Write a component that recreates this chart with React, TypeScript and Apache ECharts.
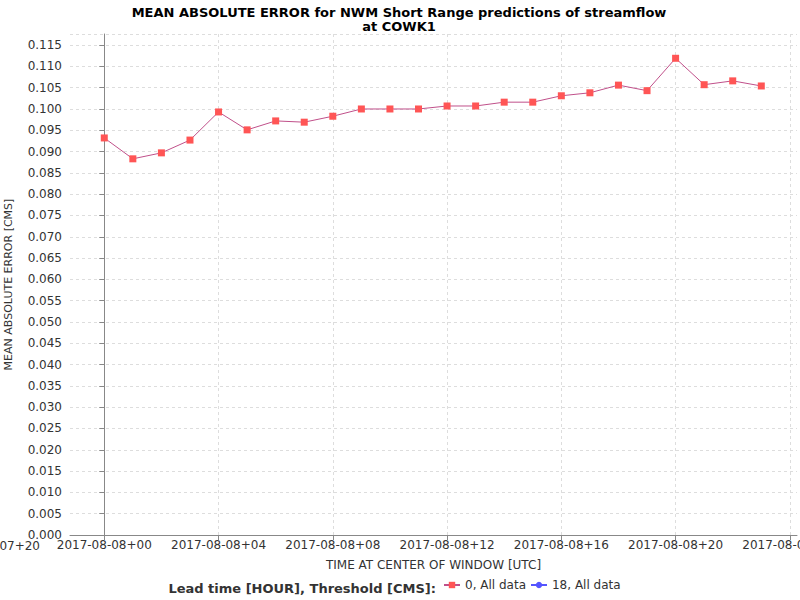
import { useEffect, useRef } from 'react';
import * as echarts from 'echarts';

// lead hours (x) and mean absolute error values
const hours = [0, 1, 2, 3, 4, 5, 6, 7, 8, 9, 10, 11, 12, 13, 14, 15, 16, 17, 18, 19, 20, 21, 22, 23];
const maeValues = [
  0.0932, 0.0883, 0.0897, 0.0927, 0.0993, 0.0951, 0.0972, 0.0969, 0.0983, 0.1, 0.1, 0.1,
  0.1007, 0.1007, 0.1016, 0.1016, 0.1031, 0.1038, 0.1056, 0.1043, 0.1119, 0.1057, 0.1066, 0.1054,
];
const tickHours = [0, 4, 8, 12, 16, 20, 24];
const tickLabels = [
  '2017-08-08+00', '2017-08-08+04', '2017-08-08+08', '2017-08-08+12',
  '2017-08-08+16', '2017-08-08+20', '2017-08-09+00',
];

const FONT = 'DejaVu Sans';

export default function App() {
  const ref = useRef<HTMLDivElement>(null);

  useEffect(() => {
    if (!ref.current) return;
    const chart = echarts.init(ref.current, undefined, { renderer: 'svg' });
    chart.setOption({
      animation: false,
      backgroundColor: '#fff',
      textStyle: { fontFamily: FONT },
      title: {
        text: 'MEAN ABSOLUTE ERROR for NWM Short Range predictions of streamflow\nat COWK1',
        left: 394,
        textAlign: 'center',
        top: 0,
        textStyle: { fontSize: 13, fontWeight: 'bold', color: '#000', lineHeight: 14, fontFamily: FONT },
      },
      grid: { left: 70, right: 3, top: 34, bottom: 65, outerBoundsMode: 'none', containLabel: false },
      xAxis: {
        type: 'value',
        min: -1.2,
        max: 24.25,
        name: 'TIME AT CENTER OF WINDOW [UTC]',
        nameLocation: 'middle',
        nameGap: 24,
        nameTextStyle: { fontSize: 12, color: '#333' },
        axisLine: { lineStyle: { color: '#888' } },
        axisTick: { customValues: tickHours, lineStyle: { color: '#888' } },
        axisLabel: {
          customValues: tickHours,
          fontSize: 12,
          color: '#333',
          margin: 4,
          formatter: (v: number) => tickLabels[tickHours.indexOf(v)] ?? '',
        },
        splitLine: { show: true, lineStyle: { color: '#ddd', type: [3, 3] } },
      },
      yAxis: {
        type: 'value',
        min: 0,
        max: 0.1176,
        interval: 0.005,
        name: 'MEAN ABSOLUTE ERROR [CMS]',
        nameLocation: 'middle',
        nameGap: 56,
        nameTextStyle: { fontSize: 11, color: '#333' },
        axisLine: { show: true, lineStyle: { color: '#888' } },
        axisTick: { show: true, lineStyle: { color: '#888' } },
        axisLabel: { fontSize: 12, color: '#333', formatter: (v: number) => v.toFixed(3) },
        splitLine: { show: true, lineStyle: { color: '#ddd', type: [3, 3] } },
      },
      legend: {
        bottom: 4,
        left: 438,
        itemWidth: 16,
        itemHeight: 8,
        itemGap: 4,
        textStyle: { fontSize: 12, color: '#333' },
        data: ['0, All data', '18, All data'],
      },
      graphic: [
        {
          type: 'text',
          right: 364,
          bottom: 5,
          style: { text: 'Lead time [HOUR], Threshold [CMS]:', fontSize: 13, fontWeight: 'bold', fill: '#333', fontFamily: FONT },
        },
        {
          type: 'text',
          x: 40,
          y: 540,
          style: { text: '2017-08-07+20', align: 'right', fontSize: 12, fill: '#333', fontFamily: FONT },
        },
      ],
      series: [
        {
          name: '0, All data',
          type: 'line',
          data: hours.map((h, i) => [h, maeValues[i]]),
          symbol: 'rect',
          symbolSize: 7,
          itemStyle: { color: '#ff5555' },
          lineStyle: { color: '#c0508a', width: 1 },
        },
        {
          name: '18, All data',
          type: 'line',
          data: [],
          symbol: 'circle',
          symbolSize: 7,
          itemStyle: { color: '#5555ff' },
          lineStyle: { color: '#5555ff', width: 1 },
        },
      ],
    });
    return () => chart.dispose();
  }, []);

  return <div ref={ref} style={{ position: 'absolute', left: 0, top: 0, width: 800, height: 600 }} />;
}
